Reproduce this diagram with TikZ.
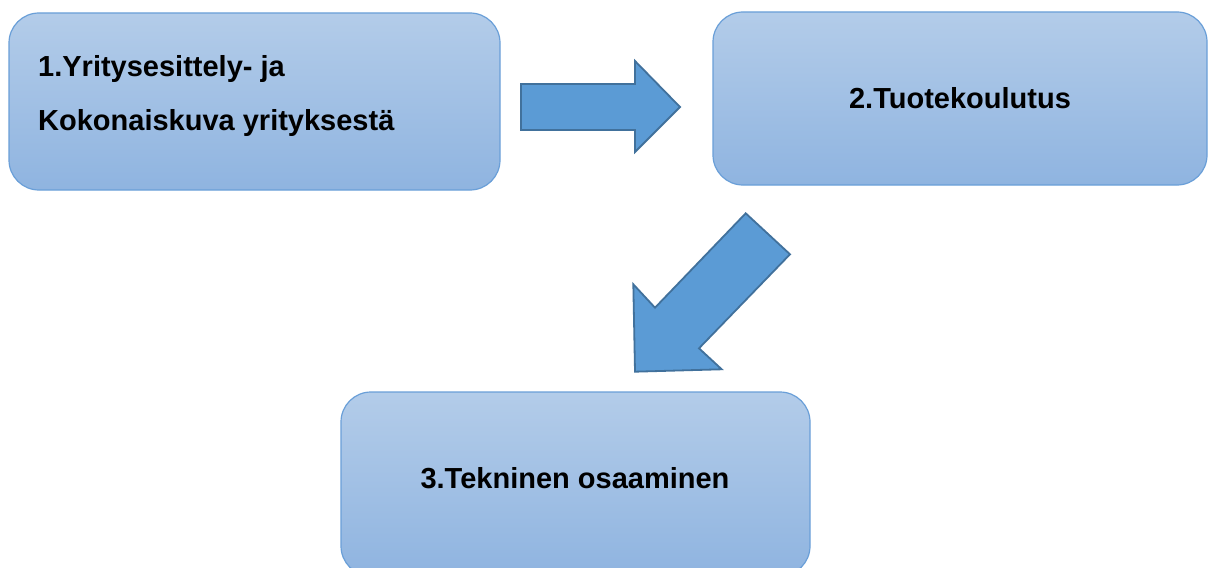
\documentclass[tikz,border=0pt]{standalone}
\usepackage{fontspec}
\setmainfont{Liberation Sans}
\begin{document}
\begin{tikzpicture}[x=1pt,y=-1pt,
  stagebox/.style={rounded corners=30pt, draw=boxline, line width=1.2pt,
    top color=boxtop, bottom color=boxbottom, inner sep=0pt},
  stagetext/.style={font=\fontsize{29}{54}\selectfont\bfseries, text=black, inner sep=0pt},
  flowarrow/.style={fill=arrowfill, draw=arrowline, line width=1.8pt, line join=miter}]
\definecolor{boxtop}{HTML}{B3CCE9}
\definecolor{boxbottom}{HTML}{8FB4E0}
\definecolor{boxline}{HTML}{6A9FD8}
\definecolor{arrowfill}{HTML}{5B9BD5}
\definecolor{arrowline}{HTML}{41719C}
\clip (0,0) rectangle (1214,567);
\fill[white] (0,0) rectangle (1214,567);

% stage boxes
\node[stagebox, minimum width=491pt, minimum height=177pt] (s1) at (254.5,101.5) {};
\node[stagebox, minimum width=494pt, minimum height=173pt] (s2) at (960,98.5) {};
\node[stagebox, minimum width=469pt, minimum height=184pt] (s3) at (575.5,484) {};

% stage labels (the two-line label is anchored on its last baseline)
\node[stagetext, anchor=base west, align=left] (t1) at (38,131)
  {1.Yritysesittely- ja\\Kokonaiskuva yrityksestä};
\node[stagetext, anchor=base] (t2) at (960,109) {2.Tuotekoulutus};
\node[stagetext, anchor=base] (t3) at (575,488) {3.Tekninen osaaminen};

% block arrows between stages
\draw[flowarrow] (521,84) -- (635,84) -- (635,61) -- (680,107) -- (635,152)
  -- (635,130) -- (521,130) -- cycle;
\draw[flowarrow] (745.7,213.3) -- (790,254.3) -- (699,348.3) -- (721.7,369.3)
  -- (635,371.7) -- (633.3,284.3) -- (655,307.7) -- cycle;
\end{tikzpicture}
\end{document}
